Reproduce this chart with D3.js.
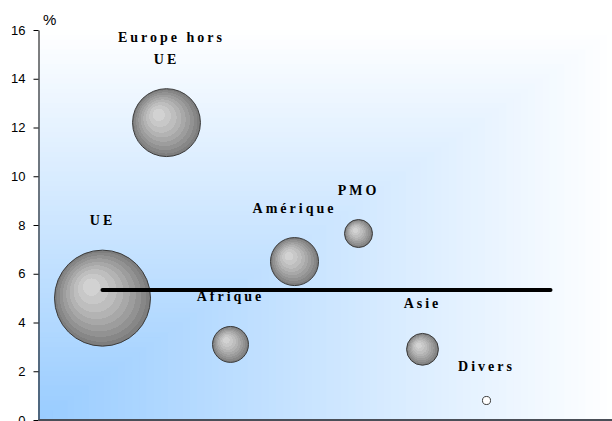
<!DOCTYPE html>
<html>
<head>
<meta charset="utf-8">
<script src="https://cdn.jsdelivr.net/npm/d3@7"></script>
<style>
  html, body { margin: 0; padding: 0; background: #ffffff; }
  svg { display: block; }
</style>
</head>
<body>
<svg id="chart" width="612" height="421"></svg>
<script>
// ---- Data ----
const categories = ["UE", "Europe hors UE", "Afrique", "Amérique", "PMO", "Asie", "Divers"];
const labelLines = [["UE"], ["Europe hors", "UE"], ["Afrique"], ["Amérique"], ["PMO"], ["Asie"], ["Divers"]];
const xPositions = [1, 2, 3, 4, 5, 6, 7];
const yValues = [5.0, 12.2, 3.1, 6.5, 7.65, 2.9, 0.8];
const bubbleSizes = [100, 50, 14, 25, 8.5, 11, 0.7];
const meanX = [1, 8];
const meanY = [5.33, 5.33];
const yTicks = [0, 2, 4, 6, 8, 10, 12, 14, 16];
const yUnit = "%";

// ---- Layout ----
const svg = d3.select("#chart");
const plot = { left: 38.5, right: 614.5, top: 30, bottom: 420 };

const x = d3.scaleLinear().domain([0, 9]).range([plot.left, plot.right]);
const y = d3.scaleLinear().domain([0, 16]).range([plot.bottom, plot.top]);
const r = d3.scaleSqrt().domain([0, 100]).range([0, 48]);

// ---- Background: corner gradient (blue bottom-left -> white top-right) ----
const W = plot.right - plot.left, H = plot.bottom - plot.top;
const blue = d3.rgb(153, 204, 255), white = d3.rgb(255, 255, 255);
const nBands = 80;
const bg = svg.append("g");
for (let i = nBands; i >= 1; i--) {
  const s = i / nBands;
  bg.append("rect")
    .attr("x", plot.left)
    .attr("y", plot.bottom - s * H)
    .attr("width", s * W)
    .attr("height", s * H)
    .attr("fill", d3.interpolateRgb(blue, white)(s - 0.5 / nBands));
}

// ---- Bubble gradient (banded, off-centre highlight) ----
const defs = svg.append("defs");
const grad = defs.append("radialGradient")
  .attr("id", "bubbleGrad")
  .attr("cx", "50%").attr("cy", "50%").attr("r", "50%")
  .attr("fx", "36%").attr("fy", "36%");
const bandStops = [0, 0.18, 0.32, 0.45, 0.56, 0.66, 0.76, 0.85, 0.93, 1];
const bandColors = ["#d2d2d2", "#c8c8c8", "#bebebe", "#b3b3b3", "#a8a8a8", "#9d9d9d", "#929292", "#878787", "#7e7e7e"];
bandColors.forEach((c, i) => {
  grad.append("stop").attr("offset", bandStops[i]).attr("stop-color", c);
  grad.append("stop").attr("offset", bandStops[i + 1]).attr("stop-color", c);
});

// ---- Axes ----
const yAxis = d3.axisLeft(y).tickValues(yTicks).tickSize(5).tickSizeOuter(0).tickPadding(8);
const gy = svg.append("g").attr("transform", `translate(${plot.left},0)`).call(yAxis);
gy.select(".domain").attr("stroke", "#000").attr("stroke-width", 1);
gy.selectAll(".tick line").attr("stroke", "#000");
gy.selectAll(".tick text")
  .attr("font-family", "'Liberation Sans', Arial, sans-serif")
  .attr("font-size", 13)
  .attr("fill", "#000");

// bottom axis line
svg.append("line")
  .attr("x1", plot.left).attr("x2", 612)
  .attr("y1", plot.bottom).attr("y2", plot.bottom)
  .attr("stroke", "#4a4f58").attr("stroke-width", 2);

svg.append("text")
  .attr("x", 43).attr("y", 25)
  .attr("font-family", "'Liberation Sans', Arial, sans-serif")
  .attr("font-size", 15)
  .attr("fill", "#000")
  .text(yUnit);

// ---- Bubbles ----
const data = categories.map((c, i) => ({
  name: c, lines: labelLines[i], x: xPositions[i], y: yValues[i], size: bubbleSizes[i]
}));

svg.append("g").selectAll("circle").data(data).join("circle")
  .attr("cx", d => x(d.x))
  .attr("cy", d => y(d.y))
  .attr("r", d => r(d.size))
  .attr("fill", d => r(d.size) < 6 ? "#ffffff" : "url(#bubbleGrad)")
  .attr("stroke", "#3a3a3a")
  .attr("stroke-width", 1);

// ---- Mean line ----
svg.append("path")
  .datum(meanX.map((v, i) => [v, meanY[i]]))
  .attr("d", d3.line().x(d => x(d[0])).y(d => y(d[1])))
  .attr("stroke", "#000")
  .attr("stroke-width", 4)
  .attr("stroke-linecap", "round")
  .attr("fill", "none");

// ---- Labels ----
const ls = 3;
const labels = svg.append("g")
  .attr("font-family", "'Liberation Serif', 'Times New Roman', serif")
  .attr("font-weight", "bold")
  .attr("font-size", 14)
  .attr("letter-spacing", ls)
  .attr("fill", "#000")
  .attr("text-anchor", "middle");

data.forEach(d => {
  const cx = x(d.x) + ls / 2 - 1.5;
  const baseY = y(d.y) - r(d.size) - 25;
  const n = d.lines.length;
  d.lines.forEach((line, j) => {
    labels.append("text")
      .attr("x", cx + (n > 1 && j === 0 ? 5 : 0))
      .attr("y", baseY - (n - 1 - j) * 22)
      .text(line);
  });
});
</script>
</body>
</html>
